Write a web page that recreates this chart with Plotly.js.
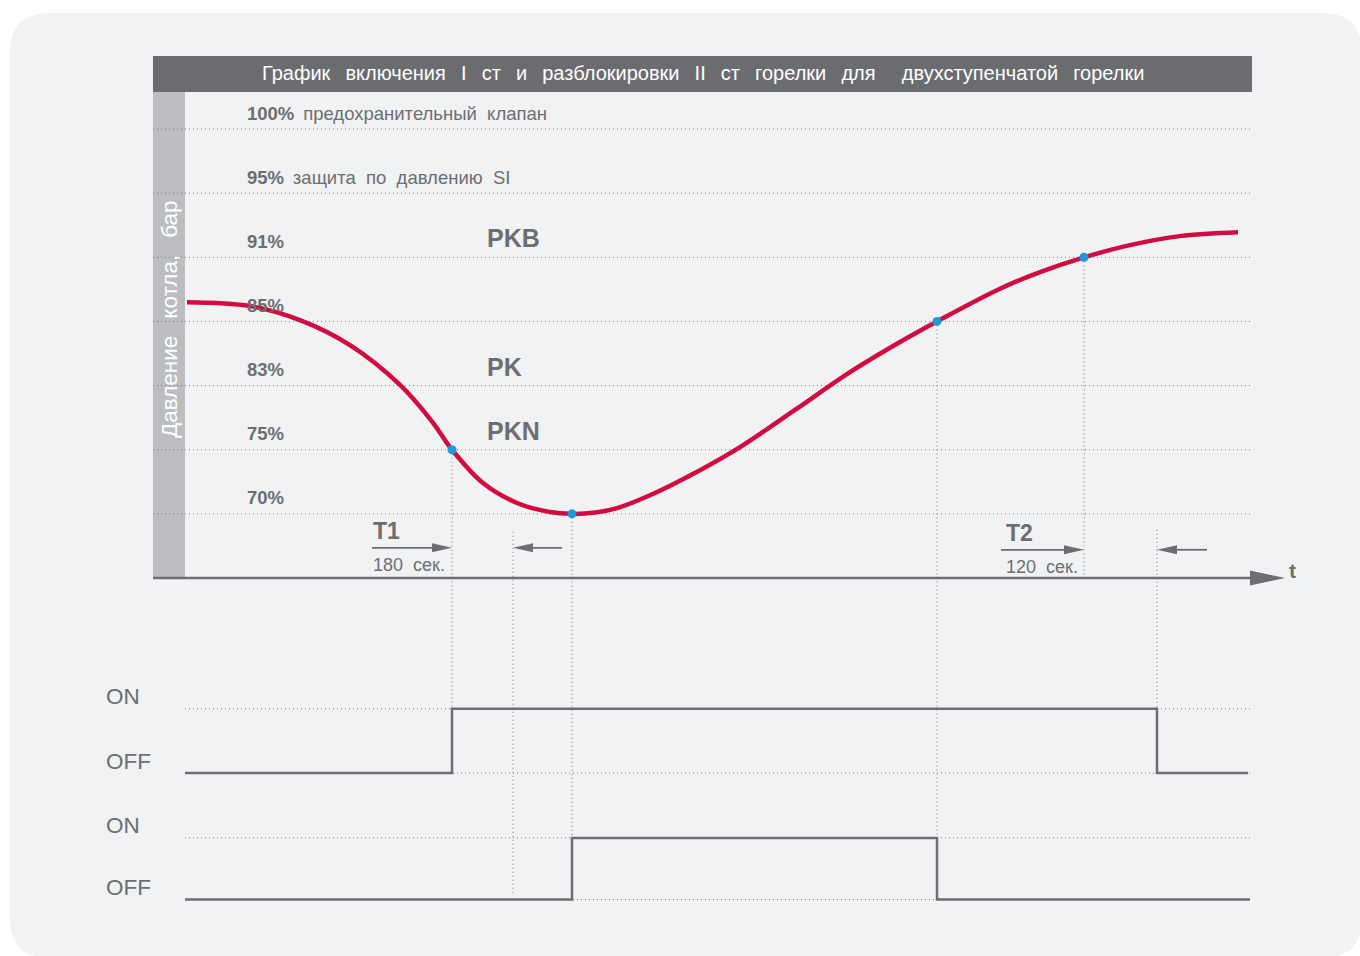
<!DOCTYPE html>
<html><head><meta charset="utf-8">
<script src="https://cdn.plot.ly/plotly-3.0.1.min.js"></script>
<style>html,body{margin:0;padding:0;background:#fff;}#chart{width:1360px;height:956px;}</style>
</head><body><div id="chart"></div>
<script>
// ---------- data ----------
const G = "\u00a0\u2009 ";
const titleText = ["График", "включения", "I", "ст", "и", "разблокировки", "II", "ст", "горелки", "для\u00a0\u00a0", "двухступенчатой", "горелки"].join(G);
const yTitle = "Давление\u00a0\u2009 котла,\u00a0\u2009 бар";
const levelLabels = ["70%", "75%", "83%", "85%", "91%", "95%", "100%"];
const levelNotes  = ["", "", "", "", "", "защита\u00a0 по\u00a0 давлению\u00a0 SI", "предохранительный\u00a0 клапан"];
const levelIndex  = [1, 2, 3, 4, 5, 6, 7];
const setpointNames  = ["PKB", "PK", "PKN"];
const setpointLevels = [5, 3, 2];

// boiler pressure curve (time units, level index)
const curveTime  = [2, 65, 115, 165, 215, 248, 267, 298, 332, 365, 387, 410, 432, 465, 515, 555, 610, 665, 715, 752, 815, 855, 899, 945, 995, 1053];
const curveLevel = [4.30, 4.24, 4.02, 3.63, 3.01, 2.42, 2.00, 1.48, 1.17, 1.03, 1.00, 1.02, 1.09, 1.29, 1.68, 2.04, 2.62, 3.21, 3.68, 4.00, 4.51, 4.77, 5.00, 5.19, 5.33, 5.39];
const markTime  = [267, 387, 752, 899];
const markLevel = [2, 1, 4, 5];

// relay states
const stateLabels = ["OFF", "ON"];
const relay1Time  = [0, 267, 972, 1063];
const relay1State = [0, 1, 0, 0];
const relay2Time  = [0, 387, 752, 1065];
const relay2State = [0, 1, 0, 0];

// timers
const timerNames     = ["T1", "T2"];
const timerDurations = ["180\u00a0 сек.", "120\u00a0 сек."];
const timerStart     = [187, 816];
const timerEnd       = [267, 899];
const timerTextStart = [186, 819];
const backStart      = [377, 1022];
const backEnd        = [328, 972];
const timerArrowLevel = [0.47, 0.44];

// ---------- layout helpers ----------
const W = 1360, H = 956;
const pxPerLevel = 64.14;
const xRange = [-185, 1175];
const yDom  = [1 - 598 / H, 1 - 92 / H],  yRng  = [-20 / pxPerLevel, 486 / pxPerLevel];
const y2Dom = [1 - 800 / H, 1 - 680 / H], y2Rng = [-27 / 64.2, 93 / 64.2];
const y3Dom = [1 - 930 / H, 1 - 810 / H], y3Rng = [-30.5 / 61.6, 89.5 / 61.6];
function toPaper(v, dom, rng) { return dom[0] + (v - rng[0]) / (rng[1] - rng[0]) * (dom[1] - dom[0]); }
const P  = v => toPaper(v, yDom, yRng);
const P2 = v => toPaper(v, y2Dom, y2Rng);
const P3 = v => toPaper(v, y3Dom, y3Rng);
const lvlPx = 1 / pxPerLevel;

const GREY = "#6d6e71", DOT = "#7c7d80", RED = "#d20c41", BLUE = "#1b9bd8";
const FONT = "Liberation Sans, Arial, sans-serif";
const dotDash = "1px,3px";

// event verticals: [time, paperTop, paperBottom]
const events = [
  [267, P(2), P2(1)],
  [328, P(0.72), P3(0.06)],
  [387, P(1), P3(0)],
  [752, P(4), P3(0)],
  [899, P(5), P(0)],
  [972, P(0.75), P2(0)]
];

const shapes = [];
(function () {
  const x0 = 10 / W, x1 = 1362 / W, y0 = 1 - 958 / H, y1 = 1 - 13 / H;
  const rx = 40 / W, ry = 40 / H;
  shapes.push({type: "path", xref: "paper", yref: "paper", layer: "below",
    path: `M${x0 + rx},${y1} L${x1 - rx},${y1} Q${x1},${y1} ${x1},${y1 - ry} L${x1},${y0 + ry} Q${x1},${y0} ${x1 - rx},${y0} L${x0 + rx},${y0} Q${x0},${y0} ${x0},${y0 + ry} L${x0},${y1 - ry} Q${x0},${y1} ${x0 + rx},${y1} Z`,
    fillcolor: "#f1f2f4", line: {width: 0}});
})();
shapes.push({type: "rect", xref: "paper", yref: "paper", layer: "below",
  x0: 153 / W, x1: 1252 / W, y0: 1 - 92 / H, y1: 1 - 56 / H, fillcolor: "#6b6c70", line: {width: 0}});
shapes.push({type: "rect", xref: "paper", yref: "paper", layer: "below",
  x0: 153 / W, x1: 185 / W, y0: P(0), y1: 1 - 92 / H, fillcolor: "#bcbdc0", line: {width: 0}});
events.forEach(e => shapes.push({type: "line", xref: "x", yref: "paper", layer: "below",
  x0: e[0], x1: e[0], y0: e[1], y1: e[2], line: {color: DOT, width: 1, dash: dotDash}}));
levelIndex.forEach(l => shapes.push({type: "line", xref: "x", yref: "y", layer: "below",
  x0: -32, x1: 1067, y0: l, y1: l, line: {color: DOT, width: 1, dash: dotDash}}));
[0, 1].forEach(s => {
  shapes.push({type: "line", xref: "x", yref: "y2", layer: "below", x0: 0, x1: 1067, y0: s, y1: s, line: {color: DOT, width: 1, dash: dotDash}});
  shapes.push({type: "line", xref: "x", yref: "y3", layer: "below", x0: 0, x1: 1067, y0: s, y1: s, line: {color: DOT, width: 1, dash: dotDash}});
});
shapes.push({type: "line", xref: "x", yref: "y", x0: -32, x1: 1070, y0: 0, y1: 0, line: {color: GREY, width: 2.5}});
shapes.push({type: "path", xref: "x", yref: "y", path: `M1065,${7.5 * lvlPx} L1100,0 L1065,${-7.5 * lvlPx} Z`, fillcolor: GREY, line: {width: 0}});
function arrow(xs, xe, lv) {
  const dir = xe > xs ? 1 : -1;
  const hx = xe - dir * 20;
  shapes.push({type: "line", xref: "x", yref: "y", x0: xs, x1: hx, y0: lv, y1: lv, line: {color: GREY, width: 1.8}});
  shapes.push({type: "path", xref: "x", yref: "y", path: `M${hx},${lv + 4.5 * lvlPx} L${xe},${lv} L${hx},${lv - 4.5 * lvlPx} Z`, fillcolor: GREY, line: {width: 0}});
}
timerNames.forEach((n, i) => { arrow(timerStart[i], timerEnd[i], timerArrowLevel[i]); arrow(backStart[i], backEnd[i], timerArrowLevel[i]); });

// ---------- annotations ----------
const ann = [];
ann.push({xref: "paper", yref: "paper", x: (153 + 1252) / 2 / W, y: 1 - 73 / H, text: titleText, showarrow: false,
  font: {family: FONT, size: 20, color: "#ffffff"}, xanchor: "center", yanchor: "middle"});
ann.push({xref: "paper", yref: "paper", x: 169 / W, y: 1 - 319 / H, text: yTitle, showarrow: false, textangle: -90,
  font: {family: FONT, size: 22.5, color: "#ffffff"}, xanchor: "center", yanchor: "middle"});
levelLabels.forEach((lab, i) => {
  const note = levelNotes[i] ? "\u00a0\u2009" + levelNotes[i] : "";
  ann.push({xref: "x", yref: "y", x: 60, y: levelIndex[i], yshift: 16, text: "<b>" + lab + "</b>" + note, showarrow: false,
    font: {family: FONT, size: 18.5, color: GREY}, xanchor: "left", yanchor: "middle"});
});
setpointNames.forEach((n, i) => ann.push({xref: "x", yref: "y", x: 300, y: setpointLevels[i], yshift: 19, text: "<b>" + n + "</b>", showarrow: false,
  font: {family: FONT, size: 25, color: GREY}, xanchor: "left", yanchor: "middle"}));
timerNames.forEach((n, i) => {
  ann.push({xref: "x", yref: "y", x: timerTextStart[i], y: timerArrowLevel[i], yshift: 17, text: "<b>" + n + "</b>", showarrow: false,
    font: {family: FONT, size: 23, color: GREY}, xanchor: "left", yanchor: "middle"});
  ann.push({xref: "x", yref: "y", x: timerTextStart[i], y: timerArrowLevel[i], yshift: -17, text: timerDurations[i], showarrow: false,
    font: {family: FONT, size: 18, color: GREY}, xanchor: "left", yanchor: "middle"});
});
ann.push({xref: "x", yref: "y", x: 1102, y: 0, yshift: 8, text: "<b>t</b>", showarrow: false,
  font: {family: FONT, size: 21, color: GREY}, xanchor: "left", yanchor: "middle"});
[["y2", 1], ["y2", 0], ["y3", 1], ["y3", 0]].forEach(([ax, s]) => ann.push({xref: "paper", yref: ax, x: 104 / W, y: s, yshift: 12,
  text: stateLabels[s], showarrow: false, font: {family: FONT, size: 22.5, color: GREY}, xanchor: "left", yanchor: "middle"}));

// ---------- traces ----------
const traces = [
  {x: curveTime, y: curveLevel, xaxis: "x", yaxis: "y", mode: "lines", line: {color: RED, width: 4.5, shape: "spline", smoothing: 1}, hoverinfo: "skip"},
  {x: markTime, y: markLevel, xaxis: "x", yaxis: "y", mode: "markers", marker: {color: BLUE, size: 9}, hoverinfo: "skip"},
  {x: relay1Time, y: relay1State, xaxis: "x", yaxis: "y2", mode: "lines", line: {color: GREY, width: 2.5, shape: "hv"}, hoverinfo: "skip"},
  {x: relay2Time, y: relay2State, xaxis: "x", yaxis: "y3", mode: "lines", line: {color: GREY, width: 2.5, shape: "hv"}, hoverinfo: "skip"}
];

const hid = {visible: false, showgrid: false, zeroline: false, fixedrange: true};
const layout = {
  width: W, height: H, margin: {l: 0, r: 0, t: 0, b: 0},
  paper_bgcolor: "#ffffff", plot_bgcolor: "rgba(0,0,0,0)", showlegend: false,
  xaxis: Object.assign({domain: [0, 1], range: xRange}, hid),
  yaxis: Object.assign({domain: yDom, range: yRng}, hid),
  yaxis2: Object.assign({domain: y2Dom, range: y2Rng}, hid),
  yaxis3: Object.assign({domain: y3Dom, range: y3Rng}, hid),
  shapes: shapes, annotations: ann
};
Plotly.newPlot("chart", traces, layout, {displayModeBar: false, staticPlot: true});
</script></body></html>
